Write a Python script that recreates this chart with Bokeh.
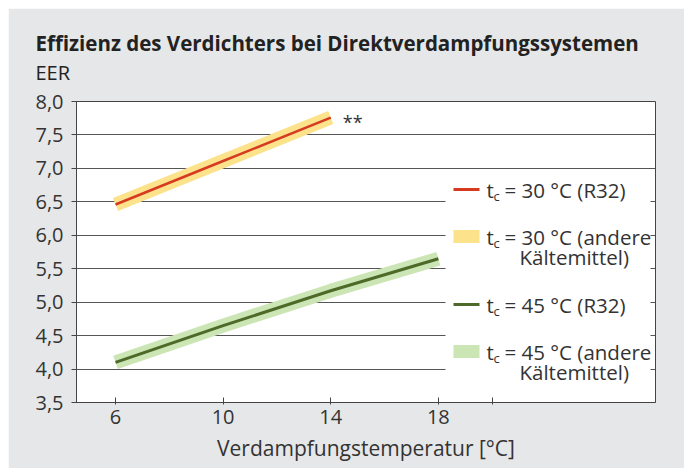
from bokeh.plotting import figure
from bokeh.models import Range1d, FixedTicker, BoxAnnotation, Label, Title, Spacer
from bokeh.layouts import column, row
from bokeh.embed import file_html
from bokeh.resources import INLINE

# ---- data ----
x_30 = [6, 10, 14]
eer_30_r32 = [6.46, 7.11, 7.76]
x_45 = [6, 10, 14, 18]
eer_45_r32 = [4.10, 4.65, 5.17, 5.65]

y_ticks = [3.5, 4.0, 4.5, 5.0, 5.5, 6.0, 6.5, 7.0, 7.5, 8.0]
y_labels = ["3,5", "4,0", "4,5", "5,0", "5,5", "6,0", "6,5", "7,0", "7,5", "8,0"]
x_ticks = [6, 10, 14, 18, 20]
x_labels = ["6", "10", "14", "18", ""]

title_text = "Effizienz des Verdichters bei Direktverdampfungssystemen"
subtitle_text = "EER"
x_title = "Verdampfungstemperatur [°C]"
legend_rest = ["= 30 °C (R32)", "= 30 °C (andere", "= 45 °C (R32)", "= 45 °C (andere"]
legend_line2 = "Kältemittel)"

# ---- styles ----
FONT = "Open Sans"
TXT = "#333333"
BG = "#e6e7e8"
RED = "#d63b1f"
YEL = "#fde28c"
DGREEN = "#4d6a28"
LGREEN = "#cbe5b4"
AX = "#444444"

p = figure(width=676, height=460,
           x_range=Range1d(4.55, 26.07), y_range=Range1d(3.5, 8.0),
           output_backend="svg", toolbar_location=None,
           min_border_left=68, min_border_right=29,
           min_border_top=93, min_border_bottom=66)

p.background_fill_color = "white"
p.border_fill_color = BG
p.outline_line_color = AX
p.outline_line_width = 1

# titles
p.title.text = title_text
p.title.text_font = FONT
p.title.text_font_size = "20.5px"
p.title.text_font_style = "bold"
p.title.text_color = "#222222"
p.title.align = "left"
p.title.offset = -41
p.title.standoff = -32
p.add_layout(Title(text=subtitle_text, text_font=FONT, text_font_size="20px",
                   text_font_style="normal", text_color="#222222",
                   align="left", offset=-41, standoff=32), "above")

# axes
p.yaxis.ticker = FixedTicker(ticks=y_ticks)
p.yaxis.major_label_overrides = dict(zip(y_ticks, y_labels))
p.xaxis.ticker = FixedTicker(ticks=x_ticks)
p.xaxis.major_label_overrides = dict(zip(x_ticks, x_labels))
for ax in (p.xaxis, p.yaxis):
    ax.axis_line_color = AX
    ax.major_tick_line_color = AX
    ax.minor_tick_line_color = None
    ax.major_label_text_font = FONT
    ax.major_label_text_font_size = "20px"
    ax.major_label_text_color = TXT
p.yaxis.major_tick_out = 5
p.yaxis.major_tick_in = 0
p.yaxis.major_label_standoff = 8
p.xaxis.major_tick_out = 2
p.xaxis.major_tick_in = 5
p.xaxis.major_label_standoff = 5
p.xaxis.axis_label = x_title
p.xaxis.axis_label_text_font = FONT
p.xaxis.axis_label_text_font_size = "21px"
p.xaxis.axis_label_text_font_style = "normal"
p.xaxis.axis_label_text_color = TXT
p.xaxis.axis_label_standoff = 7

p.xgrid.visible = False
p.ygrid.grid_line_color = "#555555"
p.ygrid.grid_line_width = 1

# bands and lines
p.line(x_30, eer_30_r32, line_width=14, color=YEL, line_cap="butt")
p.line(x_45, eer_45_r32, line_width=14, color=LGREEN, line_cap="butt")
p.line(x_30, eer_30_r32, line_width=2.5, color=RED)
p.line(x_45, eer_45_r32, line_width=3, color=DGREEN)

p.add_layout(Label(x=x_30[-1], y=eer_30_r32[-1], text="**", x_offset=12, y_offset=-4,
                   text_font=FONT, text_font_size="18px", text_color=TXT,
                   text_baseline="middle"))

# ---- legend (frame-relative screen units) ----
p.add_layout(BoxAnnotation(left=369, right=574, bottom=12, top=227,
                           left_units="screen", right_units="screen",
                           top_units="screen", bottom_units="screen",
                           fill_color="white", fill_alpha=1, line_color=None))

rows = [213, 166, 98, 51]
kinds = [("line", RED), ("band", YEL), ("line", DGREEN), ("band", LGREEN)]
for (kind, col), sy, rest in zip(kinds, rows, legend_rest):
    half = 1.5 if kind == "line" else 6.5
    p.add_layout(BoxAnnotation(left=377, right=403, bottom=sy - half, top=sy + half,
                               left_units="screen", right_units="screen",
                               top_units="screen", bottom_units="screen",
                               fill_color=col, fill_alpha=1, line_color=None))
    p.add_layout(Label(x=410, y=sy, x_units="screen", y_units="screen", text="t",
                       text_font=FONT, text_font_size="20.5px", text_color=TXT,
                       text_baseline="middle"))
    p.add_layout(Label(x=417, y=sy - 6, x_units="screen", y_units="screen", text="c",
                       text_font=FONT, text_font_size="13px", text_color=TXT,
                       text_baseline="middle"))
    p.add_layout(Label(x=428, y=sy, x_units="screen", y_units="screen", text=rest,
                       text_font=FONT, text_font_size="20.5px", text_color=TXT,
                       text_baseline="middle"))
    if kind == "band":
        p.add_layout(Label(x=443, y=sy - 20, x_units="screen", y_units="screen",
                           text=legend_line2, text_font=FONT, text_font_size="20.5px",
                           text_color=TXT, text_baseline="middle"))

layout = column(Spacer(height=8, width=684), row(Spacer(width=8, height=460), p))
open("out.html", "w").write(file_html(layout, INLINE))
